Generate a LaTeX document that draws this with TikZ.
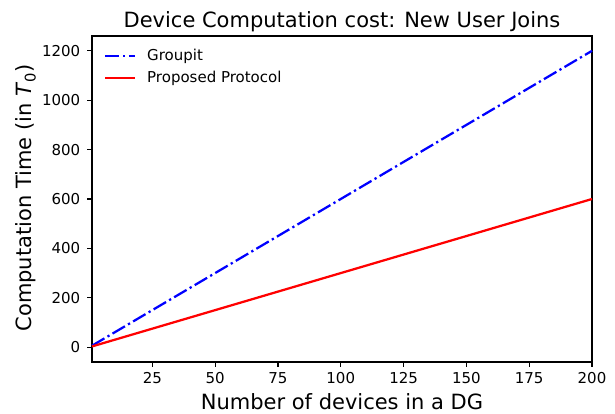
\documentclass[tikz,border=0pt]{standalone}
\usepackage{fontspec}
\setmainfont{DejaVu Sans}
\definecolor{mblue}{RGB}{0,0,255}
\definecolor{mred}{RGB}{255,0,0}
\begin{document}
\begin{tikzpicture}[x=1pt,y=-1pt,
      spine/.style={line width=1.2pt},
      tick/.style={line width=1.2pt},
      ticklab/.style={inner sep=0pt, font=\fontsize{15}{17}\selectfont},
      biglab/.style={inner sep=0pt, font=\fontsize{21}{24}\selectfont},
      groupit/.style={mblue, line width=2.25pt, dash pattern=on 14.4pt off 3.6pt on 2.25pt off 3.6pt},
      proposed/.style={mred, line width=2.25pt}
    ]
    \useasboundingbox (0,0) rectangle (615,414);

    % axes frame
    \coordinate (ll) at (92,362);
    \coordinate (ur) at (592,36);
    \draw[spine] (ll) rectangle (ur);

    % titles
    \node[biglab, anchor=base] (title) at (342,28) {Device Computation cost: New User Joins};
    \node[biglab, anchor=base] (xlab) at (342,409) {Number of devices in a DG};
    \node[biglab, rotate=90] (ylab) at (26,198) {Computation Time (in \textit{T}\textsubscript{0})};

    % data area (x from 1 to 200, y from -60 to 1260)
    \begin{scope}[shift={(89.49,347.18)}, x=2.51256pt, y=0.24697pt]
    % x ticks
    \foreach \t in {25,50,...,200} {
      \coordinate (xt\t) at (\t,-60);
      \draw[tick] (xt\t) -- ++(0,-21.3);
      \node[ticklab] (xl\t) at (\t,-125) {\t};
    }
    % y ticks
    \foreach \t in {0,200,...,1200} {
      \coordinate (yt\t) at (1,\t);
      \draw[tick] (yt\t) -- ++(-2.09,0);
      \node[ticklab, anchor=east] (yl\t) at (-3.6,\t) {\t};
    }
    % curves
    \coordinate (g0) at (1,6);
    \coordinate (g1) at (200,1200);
    \coordinate (p0) at (1,3);
    \coordinate (p1) at (200,600);
    \draw[groupit] (g0) -- (g1);
    \draw[proposed] (p0) -- (p1);
    \end{scope}

    % legend
    \coordinate (lg0) at (105,56);
    \coordinate (lg1) at (135,56);
    \coordinate (lp0) at (105,78);
    \coordinate (lp1) at (135,78);
    \draw[groupit] (lg0) -- (lg1);
    \draw[proposed] (lp0) -- (lp1);
    \node[ticklab, anchor=west] (lgt) at (147,56) {Groupit};
    \node[ticklab, anchor=west] (lpt) at (147,78) {Proposed Protocol};

\end{tikzpicture}
\end{document}
